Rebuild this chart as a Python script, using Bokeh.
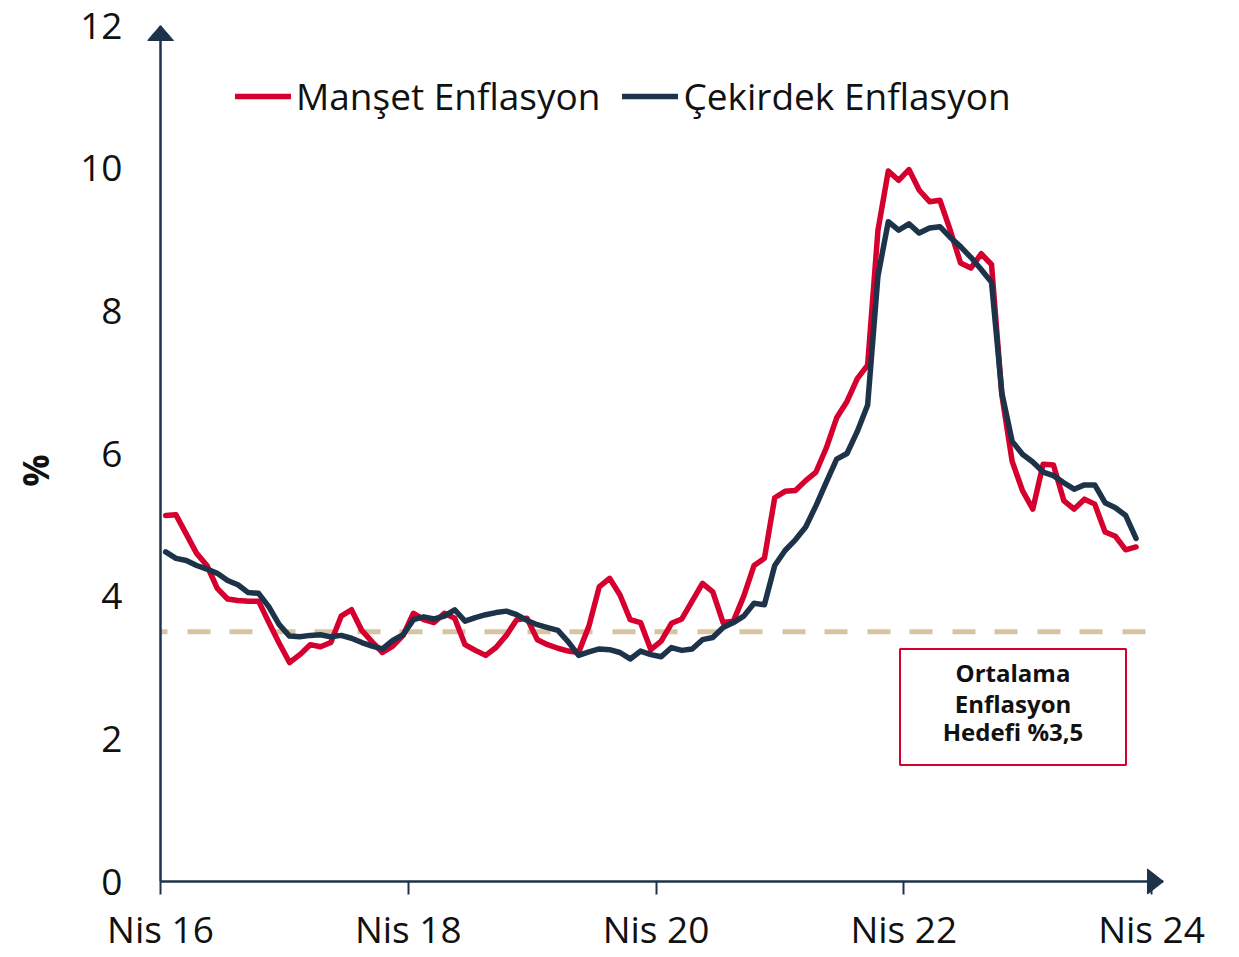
from bokeh.plotting import figure
from bokeh.models import (Range1d, FixedTicker, Legend, LegendItem, LinearAxis,
                          BoxAnnotation, Label, ColumnDataSource, PolyAnnotation)
from bokeh.embed import file_html
from bokeh.resources import INLINE

# ---------------- data ----------------
# month index since April 2016 (0 = Nis 16), plotted at mid-month
months = list(range(0, 95))

headline = [5.13, 5.14, 4.87, 4.60, 4.43, 4.11, 3.96, 3.94, 3.93,
            3.93, 3.63, 3.34, 3.07, 3.18, 3.32, 3.29, 3.35, 3.72, 3.81,
            3.52, 3.36, 3.21, 3.30, 3.45, 3.76, 3.67, 3.63, 3.76, 3.69,
            3.32, 3.24, 3.17, 3.28, 3.45, 3.67, 3.69, 3.39, 3.32, 3.27,
            3.23, 3.21, 3.58, 4.13, 4.25, 4.02, 3.67, 3.63, 3.25, 3.37,
            3.62, 3.68, 3.93, 4.18, 4.06, 3.63, 3.65, 4.00, 4.43, 4.53,
            5.38, 5.47, 5.48, 5.62, 5.74, 6.08, 6.50, 6.73, 7.05, 7.24,
            9.13, 9.96, 9.83, 9.98, 9.69, 9.53, 9.55, 9.13, 8.67, 8.60,
            8.80, 8.65, 6.82, 5.89, 5.48, 5.22, 5.85, 5.84, 5.34, 5.22,
            5.36, 5.29, 4.90, 4.84, 4.65, 4.69]

core = [4.62, 4.53, 4.50, 4.43, 4.38, 4.32, 4.22, 4.16, 4.05,
        4.04, 3.85, 3.60, 3.44, 3.43, 3.45, 3.46, 3.43, 3.45, 3.41,
        3.35, 3.30, 3.26, 3.38, 3.46, 3.67, 3.71, 3.68, 3.72, 3.81,
        3.65, 3.70, 3.74, 3.77, 3.79, 3.74, 3.66, 3.60, 3.56, 3.52,
        3.36, 3.17, 3.22, 3.26, 3.25, 3.21, 3.12, 3.23, 3.18, 3.15,
        3.28, 3.24, 3.26, 3.39, 3.42, 3.56, 3.63, 3.72, 3.90, 3.88,
        4.43, 4.64, 4.79, 4.97, 5.27, 5.60, 5.92, 6.00, 6.31, 6.68,
        8.49, 9.25, 9.13, 9.22, 9.09, 9.16, 9.18, 9.03, 8.90, 8.75,
        8.58, 8.40, 6.85, 6.17, 5.99, 5.88, 5.74, 5.69, 5.59, 5.50,
        5.56, 5.56, 5.31, 5.24, 5.13, 4.81]

tick_months = [0, 24, 48, 72, 96]
tick_labels = ["Nis 16", "Nis 18", "Nis 20", "Nis 22", "Nis 24"]
y_ticks = [0, 2, 4, 6, 8, 10, 12]
target = 3.5
series_names = ["Manşet Enflasyon", "Çekirdek Enflasyon"]
note_lines = ["Ortalama", "Enflasyon", "Hedefi %3,5"]
y_title = "%"

# ---------------- style / layout ----------------
RED = "#d6002f"
NAVY = "#1d3349"
TAN = "#d7c4a0"
TXT = "#111111"
FONT = "Open Sans"

W, H = 1239, 957
AX_X, AX_Y = 160, 881          # page px of the axes' origin
RIGHT_X, TOP_Y = 1163, 25      # page px of the x-range end / y = 12
PAD = 13                       # frame reaches a bit past the axes (room for arrowheads)
X_END = 97.16
Y_END = 12
XS = (RIGHT_X - AX_X) / X_END  # px per month
YS = (AX_Y - TOP_Y) / Y_END    # px per unit
X_START = -PAD / XS
Y_START = -PAD / YS
ML, MR, MT, MB = AX_X - PAD, W - RIGHT_X, TOP_Y, H - (AX_Y + PAD)


def px_x(page_x):
    return (page_x - AX_X) / XS


def px_y(page_y):
    return (AX_Y - page_y) / YS


src = ColumnDataSource(dict(x=[m + 0.5 for m in months], head=headline, core=core))

p = figure(width=W, height=H, output_backend="svg", toolbar_location=None,
           x_range=Range1d(X_START, X_END), y_range=Range1d(Y_START, Y_END),
           min_border_left=ML, min_border_right=MR,
           min_border_top=MT, min_border_bottom=MB)
p.outline_line_color = None
p.xgrid.visible = False
p.ygrid.visible = False
p.background_fill_color = "white"
p.border_fill_color = "white"

# x axis (labels + ticks; the axis rule is drawn at y = 0 below)
xa = p.xaxis[0]
xa.ticker = FixedTicker(ticks=tick_months)
xa.major_label_overrides = {t: l for t, l in zip(tick_months, tick_labels)}
xa.axis_line_color = None
xa.major_tick_line_color = NAVY
xa.major_tick_line_width = 2
xa.major_tick_out = 0
xa.major_tick_in = PAD
xa.minor_tick_out = 0
xa.minor_tick_in = 0
xa.major_label_standoff = 8
xa.major_label_text_font = FONT
xa.major_label_text_font_size = "37px"
xa.major_label_text_color = TXT

# y axis
ya = p.yaxis[0]
ya.ticker = FixedTicker(ticks=y_ticks)
ya.axis_line_color = None
ya.major_tick_out = 0
ya.major_tick_in = 0
ya.minor_tick_out = 0
ya.minor_tick_in = 0
ya.major_label_standoff = 38 - PAD
ya.major_label_text_font = FONT
ya.major_label_text_font_size = "37px"
ya.major_label_text_color = TXT

# y title, placed as a rotated label beside the y axis
title_y = px_y(470)
ta = LinearAxis(ticker=FixedTicker(ticks=[title_y]),
                major_label_overrides={title_y: y_title},
                axis_line_color=None, major_tick_line_color=None, minor_tick_line_color=None,
                major_tick_out=0, major_tick_in=0, minor_tick_out=0, minor_tick_in=0,
                major_label_orientation="vertical", major_label_standoff=18,
                major_label_text_font=FONT, major_label_text_font_size="36px",
                major_label_text_font_style="bold", major_label_text_color=TXT)
p.add_layout(ta, "left")

# target line
p.segment(x0=0, y0=target, x1=X_END, y1=target, line_color=TAN, line_width=5,
          line_dash="23 20 23 19", line_dash_offset=16)

# series
r1 = p.line("x", "head", source=src, line_color=RED, line_width=5.5,
            line_join="round", line_cap="round")
r2 = p.line("x", "core", source=src, line_color=NAVY, line_width=5.5,
            line_join="round", line_cap="round")

# axis rules
p.segment(x0=0, y0=0, x1=X_END, y1=0, line_color=NAVY, line_width=2.5)
p.segment(x0=0, y0=0, x1=0, y1=Y_END, line_color=NAVY, line_width=2.5)

# axis arrow heads
p.add_layout(PolyAnnotation(xs=[-13 / XS, 0, 13 / XS],
                            ys=[Y_END - 15 / YS, Y_END, Y_END - 15 / YS],
                            fill_color=NAVY, fill_alpha=1, line_color=NAVY,
                            line_alpha=1, line_width=1))
p.add_layout(PolyAnnotation(xs=[X_END - 16 / XS, X_END, X_END - 16 / XS],
                            ys=[12.5 / YS, 0, -12.5 / YS],
                            fill_color=NAVY, fill_alpha=1, line_color=NAVY,
                            line_alpha=1, line_width=1))

legend = Legend(items=[LegendItem(label=series_names[0], renderers=[r1]),
                       LegendItem(label=series_names[1], renderers=[r2])],
                orientation="horizontal", location=(235 - ML, (AX_Y + PAD) - 121),
                border_line_color=None, background_fill_alpha=0,
                label_text_font=FONT, label_text_font_size="37px",
                label_text_color=TXT,
                glyph_width=56, glyph_height=44, label_height=44,
                label_standoff=5, spacing=22, padding=0, margin=0)
p.add_layout(legend)

# target note box
box = BoxAnnotation(left=px_x(899.5), right=px_x(1125.5), top=px_y(648.5), bottom=px_y(764.5),
                    fill_color="white", fill_alpha=1, line_color=RED, line_alpha=1,
                    line_width=2)
p.add_layout(box)
cx = px_x(1012.5)
for txt, by in zip(note_lines, [672.0, 702.5, 731.0]):
    p.add_layout(Label(x=cx, y=px_y(by), text=txt, text_align="center",
                       text_baseline="alphabetic", text_font=FONT,
                       text_font_size="24px", text_font_style="bold",
                       text_color=TXT))

open("out.html", "w").write(file_html(p, INLINE))
